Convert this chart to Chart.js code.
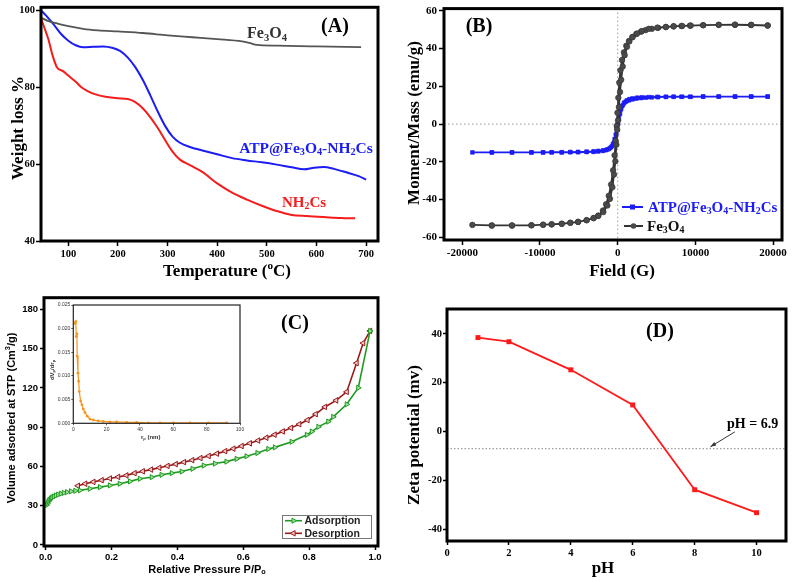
<!DOCTYPE html>
<html><head><meta charset="utf-8">
<script src="https://cdn.jsdelivr.net/npm/chart.js@4.4.1/dist/chart.umd.min.js"></script>
<style>
html,body{margin:0;padding:0;background:#fff;}
#wrap{position:relative;width:793px;height:582px;overflow:hidden;background:#fff;}
canvas{position:absolute;}
</style></head><body>
<div id="wrap">
<canvas id="cA" width="396" height="290" style="left:0;top:0"></canvas>
<canvas id="cB" width="397" height="290" style="left:396px;top:0"></canvas>
<canvas id="cC" width="396" height="292" style="left:0;top:290px"></canvas>
<canvas id="cD" width="397" height="292" style="left:396px;top:290px"></canvas>
<canvas id="cI" width="210" height="150" style="left:40px;top:298px"></canvas>
</div>
<script>
// ---------- (A) TGA ----------
const feTemp   = [45,60,80,100,130,160,200,250,300,350,400,450,465,480,520,600,690];
const feWeight = [98.2,97.3,96.6,96.0,95.3,94.9,94.6,94.2,93.6,93.1,92.6,92.0,91.6,91.1,90.9,90.7,90.5];
const atpTemp   = [45,55,70,85,100,115,130,150,170,190,205,220,235,250,265,280,295,310,325,345,370,400,430,460,490,520,550,575,595,615,635,660,685,700];
const atpWeight = [100.1,98.8,96.5,94.0,92.2,91.0,90.5,90.6,90.7,90.3,89.5,87.8,85.3,82.0,78.0,73.8,70.0,67.2,65.6,64.5,63.6,62.6,61.6,61.0,60.5,59.9,59.2,58.7,59.1,59.3,58.8,57.9,56.9,56.0];
const nhTemp   = [45,52,60,68,77,90,100,115,127,140,155,175,200,220,235,250,265,280,295,310,325,345,370,400,430,460,490,520,550,580,620,650,678];
const nhWeight = [98.0,95.5,92.5,88.5,85.3,84.2,83.1,81.5,80.0,79.0,78.2,77.6,77.2,77.0,76.2,74.6,72.3,69.5,66.3,63.3,61.2,59.8,58.0,55.0,52.6,50.8,49.2,47.8,46.8,46.5,46.2,46.0,45.9];

// ---------- (B) VSM ----------
const bFieldTicks = [-20000,-10000,0,10000,20000];
const hField = [19300,17150,15100,13000,11000,9300,8200,7200,6200,5200,4400,3600,3000,2400,1900,1450,1100,800,550,350,200,80,-30,-120,-250,-400,-600,-850,-1150,-1500,-1900,-2500,-3100,-4000,-5100,-6100,-7200,-8500,-9600,-11100,-13600,-16200,-18700,
  -16200,-13600,-11100,-9600,-8500,-7200,-6100,-5100,-4000,-3100,-2500,-1850,-1330,-990,-690,-470,-300,-170,-60,40,150,300,450,650,900,1200,1500,1900,2500,3100,4000,5100,6200,7200,8300,9400,11000,13000,15100,17200,19300];
const feMoment = [52.2,52.5,52.6,52.6,52.4,52.2,52.0,51.8,51.4,51.0,50.5,49.8,49.0,47.8,46.2,44.0,41.5,38.0,34.0,28.5,22.0,14.0,6.0,-1.0,-9.0,-16.5,-24.5,-32.0,-38.0,-42.5,-45.8,-48.5,-49.8,-50.9,-51.8,-52.3,-52.8,-53.1,-53.3,-53.6,-53.7,-53.7,-53.4,
  -53.7,-53.7,-53.6,-53.3,-53.1,-52.8,-52.3,-51.8,-50.9,-49.8,-48.6,-46.6,-43.1,-39.6,-33.5,-26.7,-19.7,-10.9,-3.0,2.0,9.0,17.0,23.5,30.5,36.5,41.0,43.8,46.0,48.0,49.3,50.5,51.1,51.5,51.8,52.0,52.2,52.4,52.6,52.7,52.6,52.3];
const atpMoment = [14.6,14.6,14.6,14.6,14.6,14.5,14.5,14.5,14.4,14.3,14.2,14.0,13.8,13.5,13.1,12.6,12.0,11.0,9.5,7.5,5.0,2.5,0.0,-2.5,-5.5,-8.0,-10.5,-12.2,-13.2,-13.8,-14.2,-14.5,-14.7,-14.8,-14.9,-14.9,-15.0,-15.0,-15.0,-15.0,-15.0,-15.0,-15.0,
  -15.0,-15.0,-15.0,-15.0,-14.9,-14.9,-14.8,-14.7,-14.6,-14.4,-14.2,-13.9,-13.4,-12.7,-11.5,-9.8,-7.8,-5.5,-3.0,0.0,2.5,5.5,8.0,10.0,11.6,12.6,13.2,13.6,14.0,14.2,14.3,14.4,14.5,14.5,14.5,14.5,14.6,14.6,14.6,14.6,14.6];

// ---------- (C) N2 isotherm ----------
const adsP = [0.003,0.006,0.009,0.012,0.016,0.020,0.025,0.031,0.038,0.046,0.055,0.065,0.077,0.090,0.104,0.134,0.165,0.195,0.225,0.256,0.286,0.322,0.352,0.383,0.413,0.446,0.480,0.514,0.549,0.580,0.610,0.643,0.676,0.696,0.747,0.793,0.808,0.828,0.858,0.873,0.914,0.949,0.985];
const adsV = [30.5,32.0,33.5,34.5,35.5,36.3,37.0,37.8,38.5,39.2,39.8,40.4,41.0,41.4,41.7,43.0,44.2,45.5,46.8,48.6,50.6,51.8,53.6,54.9,56.1,58.2,60.7,62.2,63.7,65.8,67.8,70.3,73.4,74.6,78.9,84.2,86.7,90.3,94.3,97.9,107.5,120.1,163.6];
const desP = [0.985,0.964,0.944,0.914,0.882,0.848,0.820,0.795,0.770,0.745,0.720,0.695,0.670,0.645,0.620,0.595,0.570,0.545,0.520,0.495,0.470,0.445,0.420,0.395,0.370,0.345,0.320,0.295,0.270,0.245,0.220,0.195,0.170,0.145,0.120,0.098];
const desV = [163.6,154.3,139.0,117.0,110.5,105.5,100.0,95.5,92.3,89.5,86.8,84.3,82.0,79.8,77.7,75.6,73.6,71.7,69.8,68.0,66.4,64.8,63.3,61.8,60.4,59.0,57.6,56.3,54.9,53.2,52.0,50.8,49.5,48.2,46.8,45.2];
// inset: pore size distribution
const insetR  = [1.0,1.5,1.8,2.2,2.3,2.8,3.2,3.6,4.4,5.2,6.0,7.0,8.4,10,12,15,18,22,26,32,38,45,52,60,70,81,92];
const insetDV = [0.0211,0.0215,0.0183,0.0189,0.0142,0.0106,0.0089,0.0067,0.0047,0.0039,0.0030,0.0023,0.0015,0.0009,0.0007,0.0005,0.0004,0.0003,0.0003,0.0002,0.0002,0.0001,0.0001,0.0001,0.0001,0.0001,0.0001];

// ---------- (D) zeta potential ----------
const phD   = [1,2,4,6,8,10];
const zetaD = [38.5,36.8,25.3,10.9,-23.8,-33.2];
const iepLine = -7;
const iepArrowFrom = [9.30,-0.1];
const iepArrowTo = [8.51,-6.2];
const iepLabelAt = [9.87,3.55];
const iepLabel = 'pH = 6.9';

// ---------- helpers ----------
const SERIF = '"Liberation Serif","Times New Roman",serif';
const SANS = '"Liberation Sans",Arial,sans-serif';
const BLUE = '#1c1cf5', RED = '#f51c1c';
const pts = (xs, ys) => xs.map((x, i) => ({x, y: ys[i]}));

function parseRich(str){
  const segs=[]; let i=0, cur='';
  while(i<str.length){
    const c=str[i];
    if((c==='_'||c==='^') && i+1<str.length){
      if(cur){segs.push({t:cur,k:0});cur='';}
      let t; if(str[i+1]==='{'){const j=str.indexOf('}',i+2); t=str.slice(i+2,j); i=j+1;} else {t=str[i+1]; i+=2;}
      segs.push({t, k: c==='_'?1:2});
    } else {cur+=c;i++;}
  }
  if(cur) segs.push({t:cur,k:0});
  return segs;
}
function drawRich(ctx, str, x, y, o){
  const size=o.size, fam=o.family||SERIF, wt=o.weight||'bold';
  const segs=parseRich(str);
  const f=(k)=>`${wt} ${k?size*0.66:size}px ${fam}`;
  let w=0; segs.forEach(s=>{ctx.font=f(s.k); s.w=ctx.measureText(s.t).width; w+=s.w;});
  ctx.save(); ctx.translate(x,y); if(o.rotate) ctx.rotate(-Math.PI/2);
  ctx.fillStyle=o.color||'#000'; ctx.textBaseline='alphabetic'; ctx.textAlign='left';
  let cx = o.align==='left'?0:(o.align==='right'?-w:-w/2);
  const base = size*0.34;
  segs.forEach(s=>{ctx.font=f(s.k); const dy = s.k===1? size*0.14 : s.k===2? -size*0.42 : 0; ctx.fillText(s.t,cx,base+dy); cx+=s.w;});
  ctx.restore();
}
function axis(o){
  const a = {type:'linear', min:o.min, max:o.max,
    grid:{display:true, drawOnChartArea:false, drawTicks:true, tickLength:o.tl||4, tickWidth:o.tw||1.5, color:o.gc||'#000'},
    border:{display:false},
    ticks:{stepSize:o.step, includeBounds:false, autoSkip:false, maxRotation:0, minRotation:0, padding:(o.pad!==undefined?o.pad:2), color:o.color||'#000',
      font:{family:o.family||SERIF, size:o.size||10.5, weight:o.weight||'bold'}, callback:o.fmt||(v=>String(v))},
    afterFit(s){ if(s.isHorizontal()) s.height=o.fit; else s.width=o.fit; }
  };
  if (o.tickValues) a.afterBuildTicks = (s) => { s.ticks = o.tickValues.map(v => ({value: v})); };
  return a;
}
function framePlugin(lw, col){ return {id:'frame', afterDatasetsDraw(chart){ const a=chart.chartArea, c=chart.ctx; c.save(); c.strokeStyle=col||'#000'; c.lineWidth=lw; c.strokeRect(a.left,a.top,a.right-a.left,a.bottom-a.top); c.restore(); }}; }
function textPlugin(fn){ return {id:'texts', afterDraw(chart){ fn(chart, chart.ctx); }}; }
function baseOpts(pad, xAx, yAx){
  return {responsive:false, animation:false, events:[], devicePixelRatio:1,
    layout:{padding:pad}, plugins:{legend:{display:false}, tooltip:{enabled:false}},
    scales:{x:xAx, y:yAx}};
}

// ---------- Chart A ----------
new Chart(document.getElementById('cA'), {
  type:'scatter',
  data:{datasets:[
    {data:pts(feTemp,feWeight), showLine:true, borderColor:'#555', borderWidth:1.8, pointRadius:0, cubicInterpolationMode:'monotone'},
    {data:pts(atpTemp,atpWeight), showLine:true, borderColor:BLUE, borderWidth:2, pointRadius:0, cubicInterpolationMode:'monotone'},
    {data:pts(nhTemp,nhWeight), showLine:true, borderColor:RED, borderWidth:2, pointRadius:0, cubicInterpolationMode:'monotone'}
  ]},
  options: baseOpts({left:0,top:6,right:18,bottom:0},
    axis({min:45,max:724,step:100,fit:49,tl:5,pad:2,size:10.5}),
    axis({min:40,max:100.9,step:20,fit:41,tl:5,pad:1,size:10.5})),
  plugins:[framePlugin(3), textPlugin((ch,ctx)=>{
    drawRich(ctx,'(A)',335,25,{size:20});
    drawRich(ctx,'Fe_3O_4',267,33,{size:16,color:'#333'});
    drawRich(ctx,'ATP@Fe_3O_4-NH_2Cs',306,148,{size:15.5,color:BLUE});
    drawRich(ctx,'NH_2Cs',304,202,{size:15,color:RED});
    drawRich(ctx,'Weight loss %',17,128,{size:17,rotate:true});
    drawRich(ctx,'Temperature (^oC)',227,270,{size:17});
  })]
});

// ---------- Chart B ----------
new Chart(document.getElementById('cB'), {
  type:'scatter',
  data:{datasets:[
    {label:'Fe3O4', data:pts(hField,feMoment), showLine:true, borderColor:'#333', backgroundColor:'#4a4a4a', borderWidth:1.8, pointStyle:'circle', pointRadius:2.8, pointBorderWidth:0.6},
    {label:'ATP@Fe3O4-NH2Cs', data:pts(hField,atpMoment), showLine:true, borderColor:BLUE, backgroundColor:BLUE, borderWidth:1.8, pointStyle:'rect', pointRadius:2.6, pointBorderWidth:0.6}
  ]},
  options: baseOpts({left:0,top:6,right:11,bottom:0},
    axis({min:-22355,max:21145,tickValues:bFieldTicks,fit:50,tl:5,pad:2,size:11}),
    axis({min:-61.4,max:61.2,step:20,fit:48,tl:5,pad:2,size:11})),
  plugins:[{id:'zero', beforeDatasetsDraw(ch){ const c=ch.ctx,a=ch.chartArea; const x0=ch.scales.x.getPixelForValue(0), y0=ch.scales.y.getPixelForValue(0);
      c.save(); c.strokeStyle='#999'; c.lineWidth=1; c.setLineDash([1.5,2.5]);
      c.beginPath(); c.moveTo(x0,a.top); c.lineTo(x0,a.bottom); c.moveTo(a.left,y0); c.lineTo(a.right,y0); c.stroke(); c.restore(); }},
    framePlugin(3), textPlugin((ch,ctx)=>{
    drawRich(ctx,'(B)',83,25,{size:20});
    drawRich(ctx,'Moment/Mass (emu/g)',17,123,{size:17,rotate:true});
    drawRich(ctx,'Field (G)',226,270,{size:17});
    // legend
    ctx.save();
    ctx.lineWidth=2; ctx.strokeStyle=BLUE; ctx.beginPath(); ctx.moveTo(226,207); ctx.lineTo(247,207); ctx.stroke();
    ctx.fillStyle=BLUE; ctx.fillRect(234,204.5,5,5);
    ctx.strokeStyle='#333'; ctx.beginPath(); ctx.moveTo(228,226); ctx.lineTo(247,226); ctx.stroke();
    ctx.fillStyle='#4a4a4a'; ctx.beginPath(); ctx.arc(237.5,226,2.8,0,Math.PI*2); ctx.fill();
    ctx.restore();
    drawRich(ctx,'ATP@Fe_3O_4-NH_2Cs',252,207,{size:15,color:BLUE,align:'left'});
    drawRich(ctx,'Fe_3O_4',251,226,{size:15,color:'#111',align:'left'});
  })]
});

// ---------- Chart C ----------
const GREEN='#1f9c1f', DRED='#991a1a';
new Chart(document.getElementById('cC'), {
  type:'scatter',
  data:{datasets:[
    {label:'Adsorption', data:pts(adsP,adsV), showLine:true, borderColor:GREEN, backgroundColor:'#a6dca6', borderWidth:1.6, pointStyle:'triangle', pointRotation:90, pointRadius:3, pointBorderWidth:1},
    {label:'Desorption', data:pts(desP,desV), showLine:true, borderColor:DRED, backgroundColor:'#f2caca', borderWidth:1.6, pointStyle:'triangle', pointRotation:-90, pointRadius:3.2, pointBorderWidth:1}
  ]},
  options: baseOpts({left:0,top:6,right:18,bottom:0},
    axis({min:-0.005,max:1.009,step:0.2,fit:36,tl:4,pad:2,size:9.5,family:SANS,fmt:v=>v.toFixed(1)}),
    axis({min:-0.8,max:189,step:30,fit:44,tl:4,pad:2,size:9.5,family:SANS})),
  plugins:[framePlugin(3), textPlugin((ch,ctx)=>{
    drawRich(ctx,'(C)',295,32,{size:20});
    drawRich(ctx,'Volume adsorbed at STP (Cm^3/g)',11,128,{size:11,family:SANS,rotate:true});
    drawRich(ctx,'Relative Pressure P/P_o',207,279,{size:11,family:SANS});
    ctx.save();
    ctx.fillStyle='#fff'; ctx.fillRect(282,225,90,23.5);
    ctx.strokeStyle='#777'; ctx.lineWidth=1; ctx.strokeRect(282.5,225.5,89,23);
    ctx.lineWidth=1.6;
    ctx.strokeStyle=GREEN; ctx.beginPath(); ctx.moveTo(285,230.7); ctx.lineTo(302,230.7); ctx.stroke();
    ctx.fillStyle='#a6dca6'; ctx.lineWidth=1;
    Chart.helpers.drawPoint(ctx,{pointStyle:'triangle',rotation:90,radius:3,borderWidth:1},293.5,230.7);
    ctx.lineWidth=1.6;
    ctx.strokeStyle=DRED; ctx.beginPath(); ctx.moveTo(285,243.3); ctx.lineTo(302,243.3); ctx.stroke();
    ctx.fillStyle='#f2caca'; ctx.strokeStyle=DRED; ctx.lineWidth=1;
    Chart.helpers.drawPoint(ctx,{pointStyle:'triangle',rotation:-90,radius:3.2,borderWidth:1},293.5,243.3);
    ctx.restore();
    drawRich(ctx,'Adsorption',304.5,230.7,{size:10.5,family:SANS,align:'left',color:'#222'});
    drawRich(ctx,'Desorption',304.5,243.3,{size:10.5,family:SANS,align:'left',color:'#222'});
  })]
});

// ---------- Inset ----------
new Chart(document.getElementById('cI'), {
  type:'scatter',
  data:{datasets:[
    {data:pts(insetR,insetDV), showLine:true, borderColor:'#f7941d', backgroundColor:'#f7941d', borderWidth:1.2, pointStyle:'circle', pointRadius:1.4, pointBorderWidth:0}
  ]},
  options: baseOpts({left:0,top:7,right:10,bottom:0},
    axis({min:0,max:100,step:20,fit:24.7,tl:2,tw:0.8,pad:1,size:5,family:SANS,weight:'normal',color:'#333',gc:'#333'}),
    axis({min:0,max:0.025,step:0.005,fit:33.3,tl:2,tw:0.8,pad:1,size:5,family:SANS,weight:'normal',color:'#333',gc:'#333',fmt:v=>v.toFixed(3)})),
  plugins:[{id:'bg', beforeDraw(ch){const a=ch.chartArea,c=ch.ctx; c.save(); c.fillStyle='#fff'; c.fillRect(a.left,a.top,a.right-a.left,a.bottom-a.top); c.restore();}},
    framePlugin(1.2,'#222'), textPlugin((ch,ctx)=>{
    drawRich(ctx,'dV_p/dr_p',11.7,72,{size:6,family:SANS,rotate:true,color:'#333'});
    drawRich(ctx,'r_p (nm)',110.7,138.7,{size:6,family:SANS,color:'#333'});
  })]
});

// ---------- Chart D ----------
new Chart(document.getElementById('cD'), {
  type:'scatter',
  data:{datasets:[
    {data:pts(phD,zetaD), showLine:true, borderColor:'#ff1a1a', backgroundColor:'#ff1a1a', borderWidth:1.8, pointStyle:'rect', pointRadius:3.5, pointBorderWidth:0}
  ]},
  options: baseOpts({left:0,top:19,right:7,bottom:0},
    axis({min:0,max:10.95,step:2,fit:41,tl:4,pad:2,size:10.5}),
    axis({min:-44.8,max:50.2,step:20,fit:51,tl:4,pad:1,size:10.5})),
  plugins:[{id:'iep', beforeDatasetsDraw(ch){ const c=ch.ctx,a=ch.chartArea,xs=ch.scales.x,ys=ch.scales.y;
      const y=ys.getPixelForValue(iepLine);
      c.save(); c.strokeStyle='#888'; c.lineWidth=1; c.setLineDash([1.5,2]);
      c.beginPath(); c.moveTo(a.left,y); c.lineTo(a.right,y); c.stroke(); c.restore(); }},
    framePlugin(3), textPlugin((ch,ctx)=>{
    const xs=ch.scales.x, ys=ch.scales.y;
    const x1=xs.getPixelForValue(iepArrowFrom[0]), y1=ys.getPixelForValue(iepArrowFrom[1]);
    const x2=xs.getPixelForValue(iepArrowTo[0]), y2=ys.getPixelForValue(iepArrowTo[1]);
    ctx.save(); ctx.strokeStyle='#333'; ctx.fillStyle='#333'; ctx.lineWidth=1;
    ctx.beginPath(); ctx.moveTo(x1,y1); ctx.lineTo(x2,y2); ctx.stroke();
    const ang=Math.atan2(y2-y1,x2-x1), hl=6;
    ctx.beginPath(); ctx.moveTo(x2,y2);
    ctx.lineTo(x2-hl*Math.cos(ang-0.35), y2-hl*Math.sin(ang-0.35));
    ctx.lineTo(x2-hl*Math.cos(ang+0.35), y2-hl*Math.sin(ang+0.35));
    ctx.closePath(); ctx.fill(); ctx.restore();
    drawRich(ctx,iepLabel,xs.getPixelForValue(iepLabelAt[0]),ys.getPixelForValue(iepLabelAt[1]),{size:14});
    drawRich(ctx,'(D)',264,40,{size:20});
    drawRich(ctx,'Zeta potential (mv)',17,145,{size:17,rotate:true});
    drawRich(ctx,'pH',207,277,{size:17});
  })]
});
</script>
</body></html>
